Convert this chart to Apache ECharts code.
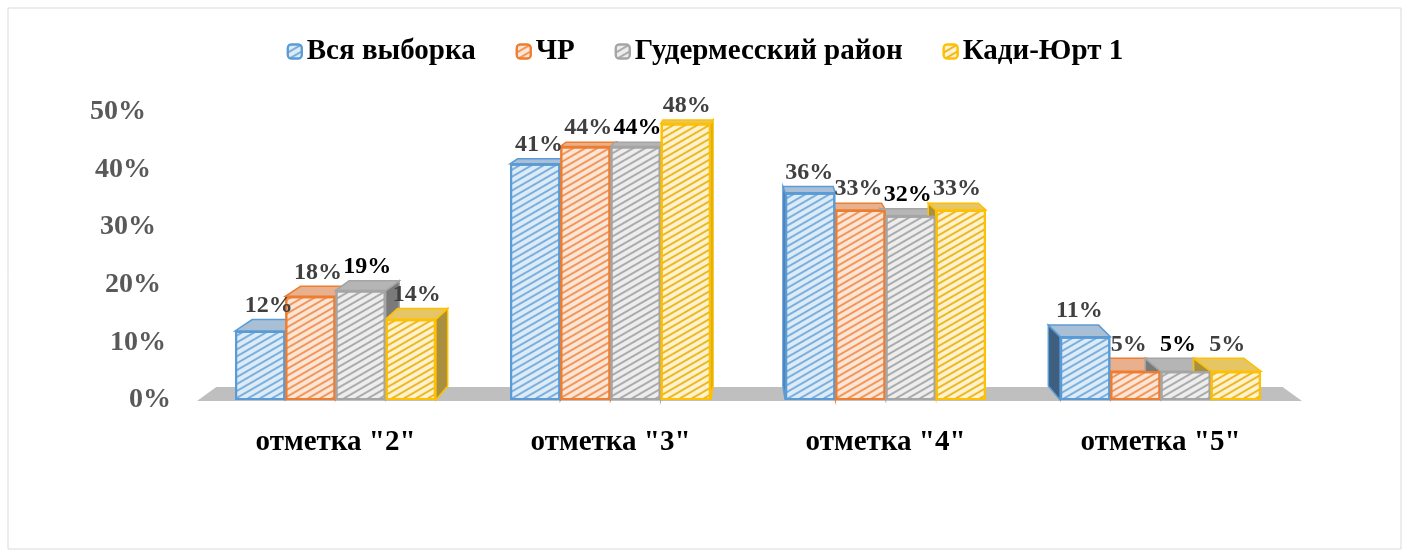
<!DOCTYPE html>
<html><head><meta charset="utf-8">
<script src="https://cdn.jsdelivr.net/npm/echarts@6/dist/echarts.min.js"></script>
<style>html,body{margin:0;padding:0;background:#fff}#c{width:1410px;height:557px}</style>
</head><body><div id="c"></div>
<script>
const categories = ['отметка "2"', 'отметка "3"', 'отметка "4"', 'отметка "5"'];
const seriesNames = ['Вся выборка', 'ЧР', 'Гудермесский район', 'Кади-Юрт 1'];
const valsAll = [12, 41, 36, 11];
const valsChr = [18, 44, 33, 5];
const valsGud = [19, 44, 32, 5];
const valsKadi = [14, 48, 33, 5];
const yTicks = [0, 10, 20, 30, 40, 50];

const FONT = '"Liberation Serif", "Times New Roman", serif';
const strokes = ['#5B9BD5', '#ED7D31', '#A5A5A5', '#FFC000'];
const fills = ['#DDEBF7', '#FBE5D6', '#EDEDED', '#FFF2CC'];
const stripes = ['rgba(91,155,213,0.75)', 'rgba(237,125,49,0.75)', 'rgba(150,150,150,0.75)', 'rgba(230,170,0,0.8)'];
const topFills = ['#A9BFD6', '#E8B08C', '#B5B5B5', '#E6C565'];
const sideFills = ['#3F5F80', '#9A5A30', '#7A7A7A', '#A89040'];
const labelColors = ['#404040', '#404040', '#000000', '#404040'];
const data = [valsAll, valsChr, valsGud, valsKadi];
const GAP = 0.27;
const KX = 0.035, KY = 0.038, EYE_Y = 33;

const rows = [];
data.forEach((arr, s) => arr.forEach((v, c) => rows.push([c, s, v])));

const chart = echarts.init(document.getElementById('c'));
const rich = {};
yTicks.forEach((t, i) => { rich['t' + t] = { fontFamily: FONT, fontWeight: 'bold', fontSize: 28, color: '#595959', padding: [0, i * 5, 0, 0] }; });

function barGeom(params, api) {
  const c = api.value(0), s = api.value(1), v = api.value(2);
  const base = api.coord([c, 0]);
  const top = api.coord([c, v]);
  const bw = api.size([1, 0])[0];
  const total = bw * (1 - GAP);
  const w = total / 4;
  const x0 = base[0] - total / 2 + s * w;
  const cs = params.coordSys;
  const midX = cs.x + cs.width / 2;
  const dx = KX * (midX - (x0 + w / 2));
  const dyTop = KY * (top[1] - EYE_Y);
  const dyBot = KY * (base[1] - EYE_Y);
  return { s, v, x0, w, yTop: top[1], yBot: base[1], dx, dyTop, dyBot };
}

const series = seriesNames.map((name, i) => ({
  name, type: 'bar', data: data[i], z: 3,
  barGap: '0%', barCategoryGap: (GAP * 100) + '%',
  itemStyle: {
    color: fills[i], borderColor: strokes[i], borderWidth: 2,
    decal: { symbol: 'rect', symbolSize: 1, dashArrayX: [1, 0], dashArrayY: [1.5, 3.5], rotation: -Math.PI / 6, color: stripes[i] }
  }
}));

series.push({
  name: 'faces', type: 'custom', z: 1, data: rows, encode: { x: 0, y: 2 }, silent: true,
  renderItem(params, api) {
    const g = barGeom(params, api);
    const x1 = g.x0 + g.w;
    const children = [];
    if (g.dx > 0) {
      children.push({ type: 'polygon', shape: { points: [[x1, g.yTop], [x1 + g.dx, g.yTop - g.dyTop], [x1 + g.dx, g.yBot - g.dyBot], [x1, g.yBot]] },
        style: { fill: sideFills[g.s], stroke: strokes[g.s], lineWidth: 1.5 } });
    } else {
      children.push({ type: 'polygon', shape: { points: [[g.x0, g.yTop], [g.x0 + g.dx, g.yTop - g.dyTop], [g.x0 + g.dx, g.yBot - g.dyBot], [g.x0, g.yBot]] },
        style: { fill: sideFills[g.s], stroke: strokes[g.s], lineWidth: 1.5 } });
    }
    children.push({ type: 'polygon', shape: { points: [[g.x0, g.yTop], [x1, g.yTop], [x1 + g.dx, g.yTop - g.dyTop], [g.x0 + g.dx, g.yTop - g.dyTop]] },
      style: { fill: topFills[g.s], stroke: strokes[g.s], lineWidth: 1.5 } });
    return { type: 'group', children };
  }
});

series.push({
  name: 'labels', type: 'custom', z: 5, data: rows, encode: { x: 0, y: 2 }, silent: true,
  renderItem(params, api) {
    const g = barGeom(params, api);
    return { type: 'text', style: { text: g.v + '%', x: g.x0 + g.w / 2 + g.dx / 2, y: g.yTop - g.dyTop - 2,
      align: 'center', verticalAlign: 'bottom', fontFamily: FONT, fontWeight: 'bold', fontSize: 24, fill: labelColors[g.s] } };
  }
});

chart.setOption({
  animation: false,
  legend: {
    top: 32, left: 'center', itemWidth: 14, itemHeight: 14, itemGap: 40,
    textStyle: { fontFamily: FONT, fontWeight: 'bold', fontSize: 29, color: '#000' },
    data: seriesNames
  },
  grid: { left: 198, right: 112, top: 112, bottom: 157, containLabel: false },
  xAxis: {
    type: 'category', data: categories,
    axisLine: { show: false }, axisTick: { show: false },
    axisLabel: { margin: 28, fontFamily: FONT, fontWeight: 'bold', fontSize: 29, color: '#000' }
  },
  yAxis: {
    type: 'value', min: 0, max: 50, interval: 10,
    splitLine: { show: false }, axisLine: { show: false }, axisTick: { show: false },
    axisLabel: { margin: 27, formatter: v => '{t' + v + '|' + v + '%}', rich }
  },
  series
});

function drawDecor() {
  const g = chart.getModel().getComponent('grid').coordinateSystem.getRect();
  const yb = chart.convertToPixel({ yAxisIndex: 0 }, 0);
  const midX = g.x + g.width / 2;
  const dy = KY * (yb - EYE_Y);
  const xl = g.x - 1, xr = g.x + g.width + 4;
  chart.setOption({
    graphic: [
      { type: 'rect', z: -10, shape: { x: 8, y: 8, width: 1393, height: 541 }, style: { fill: 'none', stroke: '#D9D9D9', lineWidth: 1 } },
      { type: 'polygon', z: -5, shape: { points: [[xl, yb + 1], [xl + KX * (midX - xl), yb + 1 - dy], [xr + KX * (midX - xr), yb + 1 - dy], [xr, yb + 1]] }, style: { fill: '#BFBFBF' } }
    ]
  });
}
drawDecor();
</script></body></html>
